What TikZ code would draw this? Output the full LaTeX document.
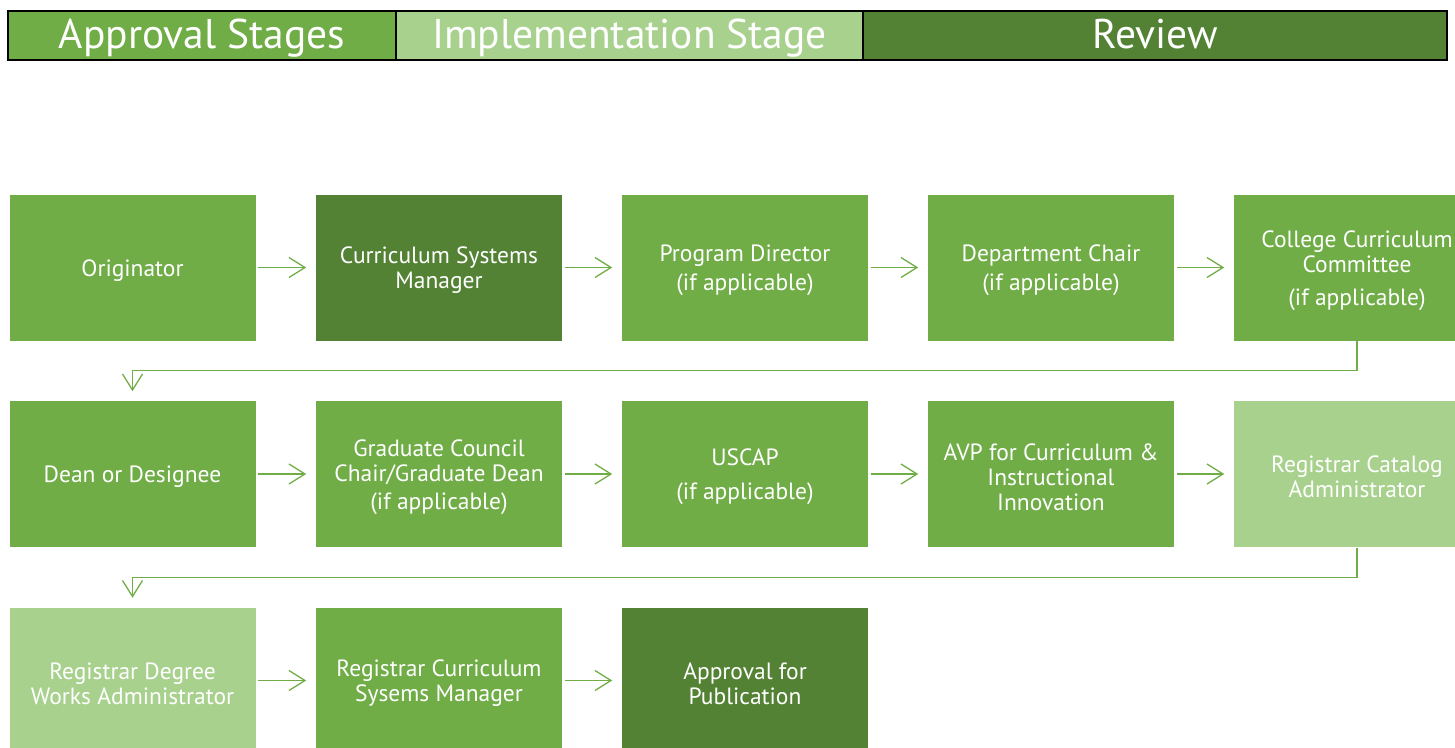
\documentclass[tikz,border=0pt]{standalone}
\usepackage{fontspec}
\setmainfont{PT Sans}
\usetikzlibrary{arrows.meta}
\definecolor{gmid}{HTML}{70AD47}
\definecolor{glight}{HTML}{A9D18E}
\definecolor{gdark}{HTML}{548235}
\tikzset{
  box/.style={draw=white, line width=0.6pt, minimum width=247pt, minimum height=147pt, inner sep=0pt},
  lbl/.style={inner sep=0pt, text=white, align=center, font=\fontsize{23.5}{25}\selectfont},
  hdr/.style={draw=black, line width=2.5pt, minimum height=49pt, inner sep=0pt, text=white, text height=30pt, text depth=5pt, font=\fontsize{41.5}{44}\selectfont},
  arr/.style={draw=gmid, line width=1.3pt, -{Straight Barb[length=16pt,width=20pt,line width=1.3pt]}, shorten <=2pt, shorten >=9pt},
}
\newcommand{\stagebox}[4]{%
  \node[box, fill=#3] (#1) at #2 {};
  \node[lbl] (#1t) at ([yshift=-3pt]#1.center) {#4};
}
\begin{document}
\begin{tikzpicture}[x=1pt,y=-1pt]
\useasboundingbox (0,0) rectangle (1455,747);
\clip (0,0) rectangle (1455,747);
% header
\node[hdr, fill=gmid, minimum width=388pt] (h1) at (202,35.5) {Approval Stages};
\node[hdr, fill=glight, minimum width=467pt] (h2) at (629.5,35.5) {Implementation Stage};
\node[hdr, fill=gdark, minimum width=584pt] (h3) at (1155,35.5) {Review};
% row 1
\stagebox{n1}{(132.5,267.5)}{gmid}{Originator}
\stagebox{n2}{(439,267.5)}{gdark}{Curriculum Systems\\Manager}
\stagebox{n3}{(745,267.5)}{gmid}{Program Director\\[4pt](if applicable)}
\stagebox{n4}{(1051,267.5)}{gmid}{Department Chair\\[4pt](if applicable)}
\stagebox{n5}{(1357,267.5)}{gmid}{College Curriculum\\Committee\\[8pt](if applicable)}
% row 2
\stagebox{n6}{(132.5,474)}{gmid}{Dean or Designee}
\stagebox{n7}{(439,474)}{gmid}{Graduate Council\\Chair/Graduate Dean\\[3pt](if applicable)}
\stagebox{n8}{(745,474)}{gmid}{USCAP\\[9pt](if applicable)}
\stagebox{n9}{(1051,474)}{gmid}{AVP for Curriculum \&\\Instructional\\Innovation}
\stagebox{n10}{(1357,474)}{glight}{Registrar Catalog\\Administrator}
% row 3
\stagebox{n11}{(132.5,680.5)}{glight}{Registrar Degree\\Works Administrator}
\stagebox{n12}{(439,680.5)}{gmid}{Registrar Curriculum\\Sysems Manager}
\stagebox{n13}{(745,680.5)}{gdark}{Approval for\\Publication}
% connectors
\draw[arr] (n1) -- (n2);
\draw[arr] (n2) -- (n3);
\draw[arr] (n3) -- (n4);
\draw[arr] (n4) -- (n5);
\draw[arr, shorten <=0pt] (n5.south) -- ++(0,29) -| (n6.north);
\draw[arr] (n6) -- (n7);
\draw[arr] (n7) -- (n8);
\draw[arr] (n8) -- (n9);
\draw[arr] (n9) -- (n10);
\draw[arr, shorten <=0pt] (n10.south) -- ++(0,30) -| (n11.north);
\draw[arr] (n11) -- (n12);
\draw[arr] (n12) -- (n13);
\end{tikzpicture}
\end{document}
